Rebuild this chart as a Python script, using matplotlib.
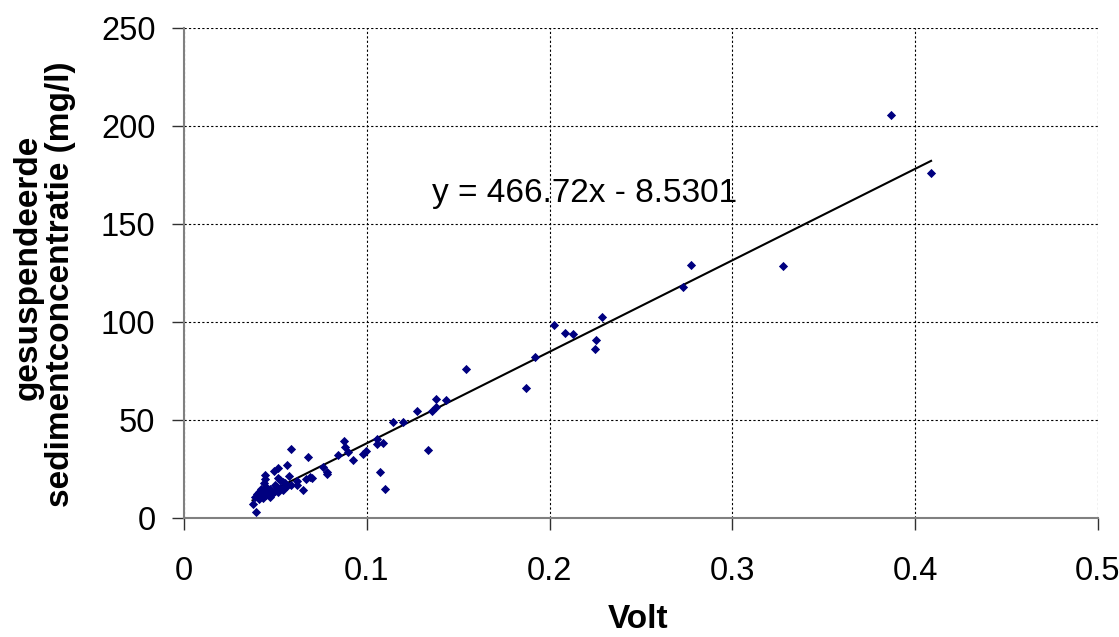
import matplotlib
matplotlib.use("Agg")
import matplotlib.pyplot as plt

# measured points: Volt vs suspended sediment concentration (mg/l)
volt = [0.0375, 0.0395, 0.039, 0.040, 0.041, 0.041, 0.042, 0.042, 0.043, 0.043,
        0.044, 0.044, 0.0441, 0.0441, 0.045, 0.045, 0.046, 0.047, 0.047, 0.048,
        0.049, 0.0497, 0.050, 0.051, 0.0516, 0.0516, 0.0517, 0.0525, 0.0528, 0.054,
        0.0543, 0.0552, 0.0565, 0.0565, 0.0576, 0.0585, 0.0586, 0.0616, 0.0621, 0.0649,
        0.067, 0.0676, 0.0689, 0.0701, 0.0761, 0.078, 0.0785, 0.0843, 0.0876, 0.088,
        0.090, 0.0925, 0.0977, 0.0998, 0.1055, 0.1058, 0.109, 0.1071, 0.110, 0.1146,
        0.120, 0.1277, 0.1337, 0.1357, 0.1377, 0.1377, 0.1433, 0.1543, 0.1873, 0.192,
        0.2022, 0.2087, 0.2128, 0.2253, 0.225, 0.2286, 0.2731, 0.2774, 0.3275, 0.3867,
        0.4087]
conc = [7.0, 2.9, 10.5, 12.0, 9.5, 13.5, 11.0, 15.0, 12.5, 10.0,
        14.0, 17.7, 19.7, 22.1, 11.5, 16.0, 13.0, 15.0, 10.5, 12.0,
        23.8, 16.8, 14.0, 16.0, 20.3, 13.4, 25.4, 15.2, 19.4, 14.3,
        18.5, 17.7, 16.3, 27.0, 21.4, 17.0, 35.0, 16.8, 19.0, 14.3,
        19.7, 31.3, 21.1, 20.6, 26.2, 23.6, 22.6, 32.1, 39.3, 36.0,
        33.5, 29.4, 32.7, 34.3, 40.1, 37.6, 38.1, 23.3, 15.0, 49.0,
        49.0, 54.6, 34.9, 54.4, 56.5, 60.6, 60.0, 75.9, 66.5, 82.0,
        98.6, 94.6, 94.0, 90.8, 86.1, 102.4, 118.0, 128.9, 128.4, 205.6,
        176.2]

slope = 466.72
intercept = -8.5301
x_ticks = [0, 0.1, 0.2, 0.3, 0.4, 0.5]
x_tick_labels = ["0", "0.1", "0.2", "0.3", "0.4", "0.5"]
y_ticks = [0, 50, 100, 150, 200, 250]

plt.rcParams['font.family'] = ['Liberation Sans', 'DejaVu Sans']

fig = plt.figure(figsize=(11.19, 6.37), dpi=100)
ax = fig.add_axes([0.1644, 0.1868, 0.9812 - 0.1644, 0.956 - 0.1868])

ax.scatter(volt, conc, marker='D', s=22, color='#000080', zorder=3, linewidths=0)

x0, x1 = min(volt), max(volt)
ax.plot([x0, x1], [slope * x0 + intercept, slope * x1 + intercept],
        color='black', lw=1.5, zorder=2)

ax.text(0.1355, 165.8, "y = %.2fx - %.4f" % (slope, -intercept),
        fontsize=24, va='center', ha='left')

ax.set_xlim(0, 0.5)
ax.set_ylim(0, 250)
ax.set_xticks(x_ticks)
ax.set_xticklabels(x_tick_labels)
ax.set_yticks(y_ticks)
ax.tick_params(labelsize=23.5, length=8.5, color='#303030', width=1.0)
ax.tick_params(axis='x', pad=19)
ax.tick_params(axis='y', pad=12)

ax.grid(True, color='black', linestyle=(0, (2, 2)), linewidth=0.8)
ax.set_axisbelow(True)
for s in ['top', 'right']:
    ax.spines[s].set_visible(False)
for s in ['left', 'bottom']:
    ax.spines[s].set_color('#808080')
    ax.spines[s].set_linewidth(1.5)

# axis titles (placed like the original, two y-title lines centred separately)
fig.text(638 / 1119, 1 - 620 / 637, "Volt", fontsize=24, fontweight='bold',
         ha='center', va='center')
fig.text(28 / 1119, 1 - 267 / 637, "gesuspendeerde", fontsize=24, fontweight='bold',
         ha='center', va='center', rotation=90)
fig.text(61 / 1119, 1 - 284 / 637, "sedimentconcentratie (mg/l)", fontsize=24,
         fontweight='bold', ha='center', va='center', rotation=90)

fig.savefig("out.png", dpi=100, facecolor='white')
